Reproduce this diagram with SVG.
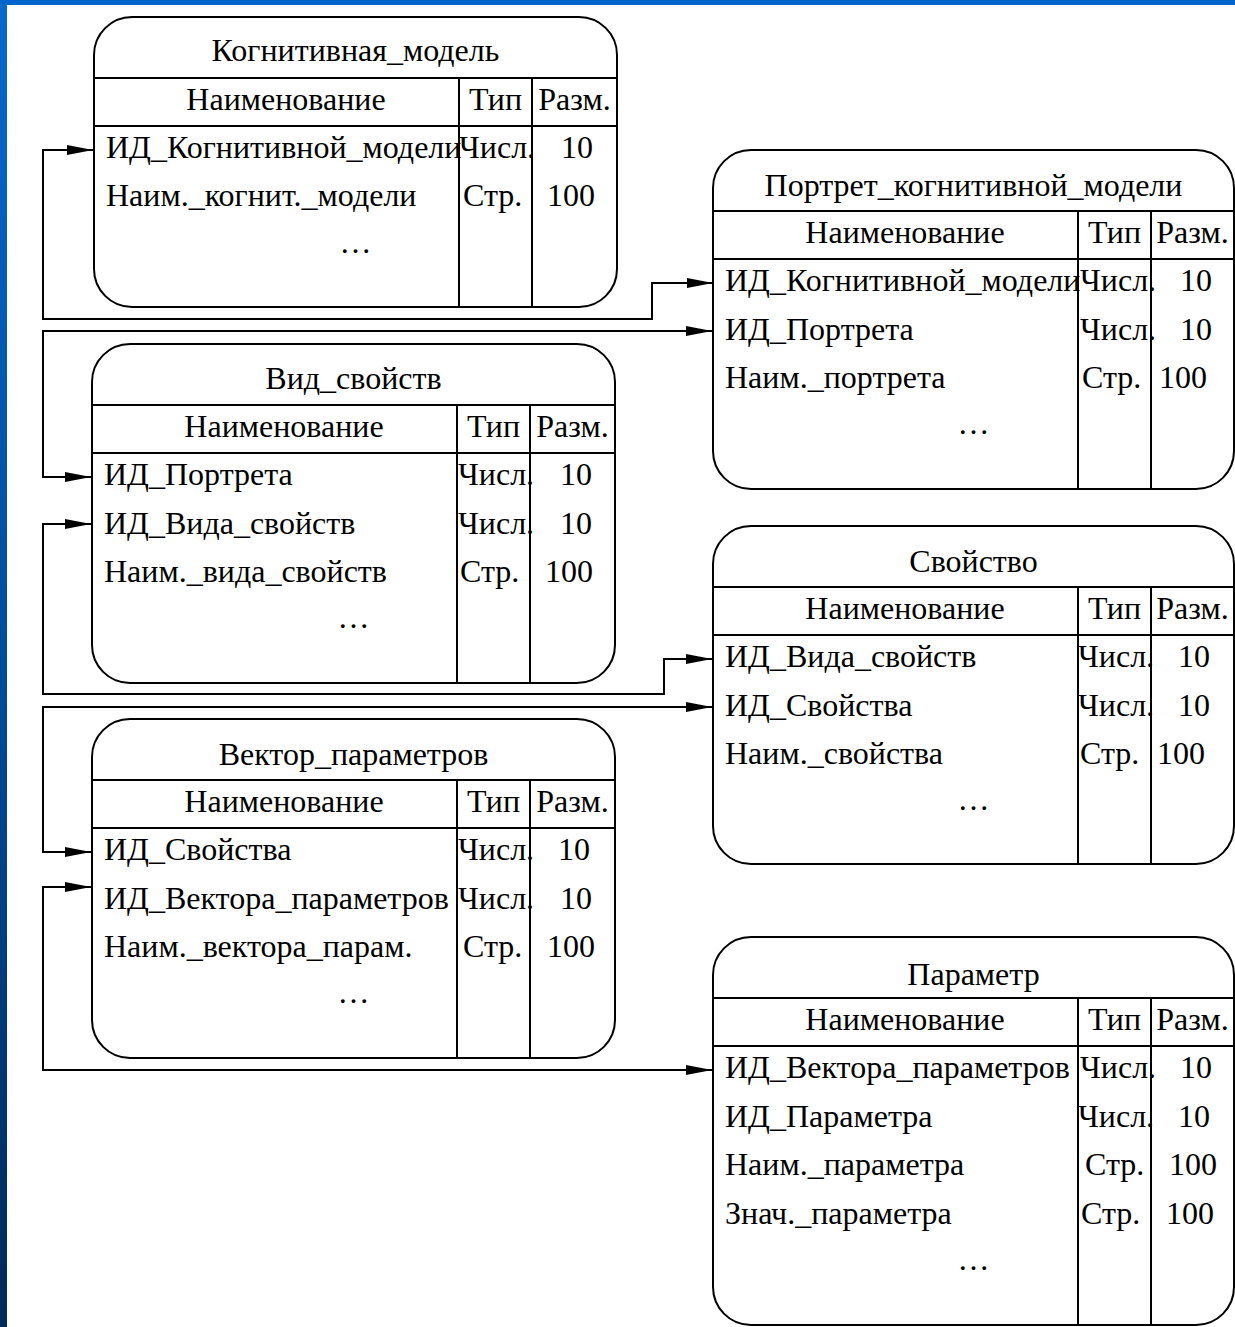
<svg xmlns="http://www.w3.org/2000/svg" width="1235" height="1327" viewBox="0 0 1235 1327">
<defs>
<linearGradient id="lg" x1="0" y1="0" x2="0" y2="1">
<stop offset="0" stop-color="#0868cc"/>
<stop offset="0.5" stop-color="#004c9a"/>
<stop offset="1" stop-color="#002a58"/>
</linearGradient>
<marker id="ah" markerWidth="26" markerHeight="10" refX="26" refY="5" orient="auto-start-reverse" markerUnits="userSpaceOnUse">
<path d="M0,0 L26,5 L0,10 Z" fill="#000"/>
</marker>
<style>
text{font-family:"Liberation Serif","Times New Roman",serif;font-size:32px;fill:#000}
.c{text-anchor:middle}
.b{fill:#fff;stroke:#000;stroke-width:2}
.l{stroke:#000;stroke-width:2;fill:none}
.w{stroke:#000;stroke-width:2;fill:none;marker-start:url(#ah);marker-end:url(#ah)}
</style>
</defs>
<rect x="0" y="0" width="1235" height="1327" fill="#fff"/>
<rect x="0" y="0" width="7" height="1327" fill="url(#lg)"/>
<rect x="0" y="0" width="1235" height="5" fill="#0066cc"/>

<g id="connectors">
<polyline class="w" points="713,283 652,283 652,319 43,319 43,150 93,150"/>
<polyline class="w" points="712,331 43,331 43,477 91,477"/>
<polyline class="w" points="91,524 43,524 43,694 664,694 664,659 712,659"/>
<polyline class="w" points="712,707 43,707 43,852 91,852"/>
<polyline class="w" points="91,887 43,887 43,1070 712,1070"/>
</g>

<g id="kognitivnaya_model">
<rect class="b" x="94" y="17" width="523" height="290" rx="38" ry="38"/>
<path class="l" d="M94,78 H617 M94,126 H617 M459,78 V307 M532,78 V307"/>
<text class="c" x="355.5" y="61">Когнитивная_модель</text>
<text class="c" x="286" y="110">Наименование</text>
<text class="c" x="495.5" y="110">Тип</text>
<text class="c" x="574.5" y="110">Разм.</text>
<text x="106" y="158">ИД_Когнитивной_модели</text>
<text x="459" y="158">Числ.</text>
<text x="561" y="158">10</text>
<text x="106" y="206">Наим._когнит._модели</text>
<text x="463" y="206">Стр.</text>
<text x="547" y="206">100</text>
<text class="c" x="355.5" y="253">…</text>
</g>

<g id="portret">
<rect class="b" x="713" y="150" width="521" height="339" rx="38" ry="38"/>
<path class="l" d="M713,211 H1234 M713,259 H1234 M1078,211 V489 M1151,211 V489"/>
<text class="c" x="973.5" y="196">Портрет_когнитивной_модели</text>
<text class="c" x="905" y="243">Наименование</text>
<text class="c" x="1114.5" y="243">Тип</text>
<text class="c" x="1192.5" y="243">Разм.</text>
<text x="725" y="291">ИД_Когнитивной_модели</text>
<text x="1080" y="291">Числ.</text>
<text x="1180" y="291">10</text>
<text x="725" y="340">ИД_Портрета</text>
<text x="1080" y="340">Числ.</text>
<text x="1180" y="340">10</text>
<text x="725" y="388">Наим._портрета</text>
<text x="1082" y="388">Стр.</text>
<text x="1159" y="388">100</text>
<text class="c" x="973.5" y="434">…</text>
</g>

<g id="vid_svoystv">
<rect class="b" x="92" y="344" width="523" height="339" rx="38" ry="38"/>
<path class="l" d="M92,405 H615 M92,453 H615 M457,405 V683 M530,405 V683"/>
<text class="c" x="353.5" y="389">Вид_свойств</text>
<text class="c" x="284" y="437">Наименование</text>
<text class="c" x="493.5" y="437">Тип</text>
<text class="c" x="572.5" y="437">Разм.</text>
<text x="104" y="485">ИД_Портрета</text>
<text x="458" y="485">Числ.</text>
<text x="560" y="485">10</text>
<text x="104" y="534">ИД_Вида_свойств</text>
<text x="458" y="534">Числ.</text>
<text x="560" y="534">10</text>
<text x="104" y="582">Наим._вида_свойств</text>
<text x="460" y="582">Стр.</text>
<text x="545" y="582">100</text>
<text class="c" x="353.5" y="628">…</text>
</g>

<g id="svoystvo">
<rect class="b" x="713" y="526" width="521" height="338" rx="38" ry="38"/>
<path class="l" d="M713,587 H1234 M713,635 H1234 M1078,587 V864 M1151,587 V864"/>
<text class="c" x="973.5" y="572">Свойство</text>
<text class="c" x="905" y="619">Наименование</text>
<text class="c" x="1114.5" y="619">Тип</text>
<text class="c" x="1192.5" y="619">Разм.</text>
<text x="725" y="667">ИД_Вида_свойств</text>
<text x="1078" y="667">Числ.</text>
<text x="1178" y="667">10</text>
<text x="725" y="716">ИД_Свойства</text>
<text x="1078" y="716">Числ.</text>
<text x="1178" y="716">10</text>
<text x="725" y="764">Наим._свойства</text>
<text x="1080" y="764">Стр.</text>
<text x="1157" y="764">100</text>
<text class="c" x="973.5" y="810">…</text>
</g>

<g id="vektor_parametrov">
<rect class="b" x="92" y="719" width="523" height="339" rx="38" ry="38"/>
<path class="l" d="M92,780 H615 M92,828 H615 M457,780 V1058 M530,780 V1058"/>
<text class="c" x="353.5" y="765">Вектор_параметров</text>
<text class="c" x="284" y="812">Наименование</text>
<text class="c" x="493.5" y="812">Тип</text>
<text class="c" x="572.5" y="812">Разм.</text>
<text x="104" y="860">ИД_Свойства</text>
<text x="458" y="860">Числ.</text>
<text x="558" y="860">10</text>
<text x="104" y="909">ИД_Вектора_параметров</text>
<text x="458" y="909">Числ.</text>
<text x="560" y="909">10</text>
<text x="104" y="957">Наим._вектора_парам.</text>
<text x="463" y="957">Стр.</text>
<text x="547" y="957">100</text>
<text class="c" x="353.5" y="1003">…</text>
</g>

<g id="parametr">
<rect class="b" x="713" y="937" width="521" height="388" rx="38" ry="38"/>
<path class="l" d="M713,998 H1234 M713,1046 H1234 M1078,998 V1325 M1151,998 V1325"/>
<text class="c" x="973.5" y="985">Параметр</text>
<text class="c" x="905" y="1030">Наименование</text>
<text class="c" x="1114.5" y="1030">Тип</text>
<text class="c" x="1192.5" y="1030">Разм.</text>
<text x="725" y="1078">ИД_Вектора_параметров</text>
<text x="1080" y="1078">Числ.</text>
<text x="1180" y="1078">10</text>
<text x="725" y="1127">ИД_Параметра</text>
<text x="1078" y="1127">Числ.</text>
<text x="1178" y="1127">10</text>
<text x="725" y="1175">Наим._параметра</text>
<text x="1085" y="1175">Стр.</text>
<text x="1169" y="1175">100</text>
<text x="725" y="1224">Знач._параметра</text>
<text x="1081" y="1224">Стр.</text>
<text x="1166" y="1224">100</text>
<text class="c" x="973.5" y="1270">…</text>
</g>
</svg>
